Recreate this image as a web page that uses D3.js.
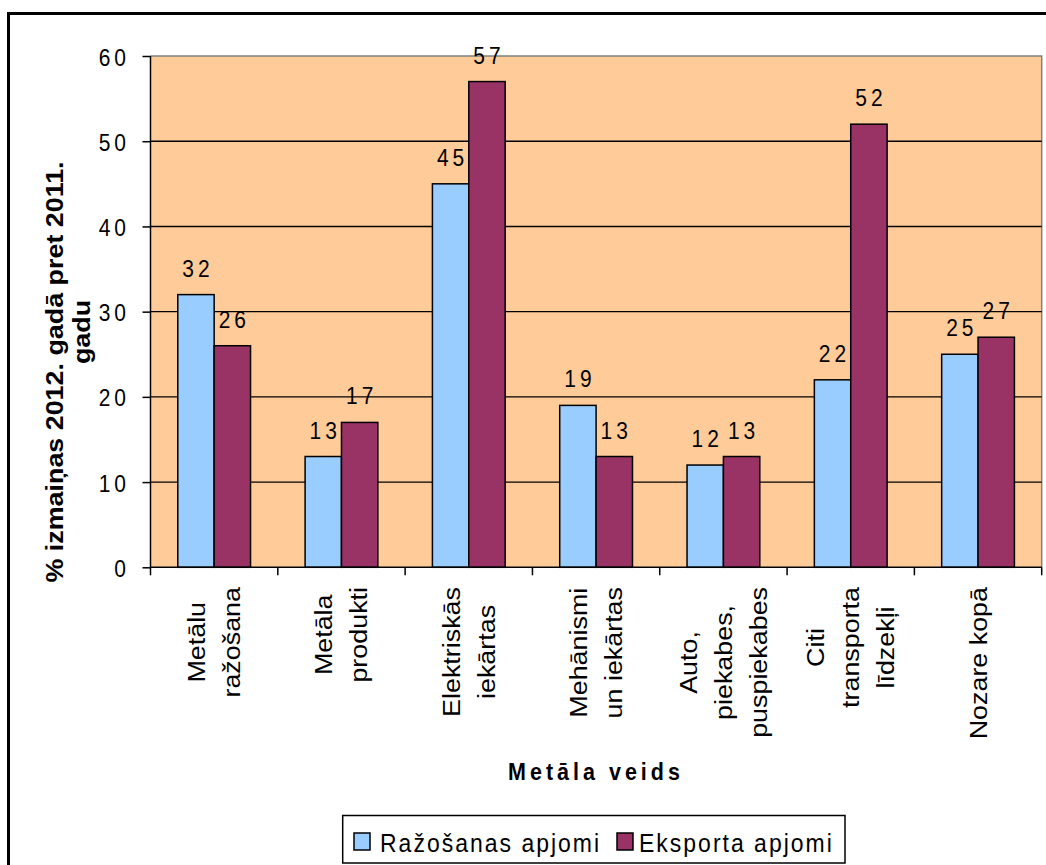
<!DOCTYPE html>
<html>
<head>
<meta charset="utf-8">
<script src="https://cdn.jsdelivr.net/npm/d3@7"></script>
<style>
  html, body { margin: 0; padding: 0; background: #fff; }
  svg { display: block; font-family: "Liberation Sans", Arial, sans-serif; }
</style>
</head>
<body>
<svg id="chart" width="1046" height="865"></svg>
<script>
// Metal industry: % change 2012 vs 2011, production vs export volumes
const categories = [
  "Metālu\nražošana",
  "Metāla\nprodukti",
  "Elektriskās\niekārtas",
  "Mehānismi\nun iekārtas",
  "Auto,\npiekabes,\npuspiekabes",
  "Citi\ntransporta\nlīdzekļi",
  "Nozare kopā"
];
const seriesNames = ["Ražošanas apjomi", "Eksporta apjomi"];
const production = [32, 13, 45, 19, 12, 22, 25];
const exportVals = [26, 17, 57, 13, 13, 52, 27];
const yTicks = [0, 10, 20, 30, 40, 50, 60];
const yTitleLines = ["% izmaiņas 2012. gadā pret 2011.", "gadu"];
const xTitle = "Metāla veids";

const colors = ["#99CCFF", "#993366"];
const SY = 1.12; // vertical stretch applied to all text

const svg = d3.select("#chart");

// outer frame
svg.append("rect")
  .attr("x", 8.5).attr("y", 13.5)
  .attr("width", 1100).attr("height", 900)
  .attr("fill", "#fff").attr("stroke", "#000").attr("stroke-width", 3);

const plot = { left: 150.5, right: 1041.7, top: 56, bottom: 567.3 };

const y = d3.scaleLinear().domain([0, 60]).range([plot.bottom, plot.top]);
const x0 = d3.scaleBand().domain(categories).range([plot.left, plot.right]).paddingInner(0).paddingOuter(0);
const x1 = d3.scaleBand().domain(seriesNames).range([0, x0.bandwidth()]).paddingInner(0).paddingOuter(0.75);

function txt(parent, px, py, str, o = {}) {
  const rot = o.rotate ? ` rotate(${o.rotate})` : "";
  return parent.append("text")
    .attr("transform", `translate(${px},${py}) scale(1,${SY})${rot}`)
    .attr("font-size", o.size || 21)
    .attr("font-weight", o.weight || "normal")
    .attr("letter-spacing", o.ls || 0)
    .attr("text-anchor", o.anchor || "start")
    .attr("fill", "#000")
    .text(str);
}

// plot background
svg.append("rect")
  .attr("x", plot.left).attr("y", plot.top)
  .attr("width", plot.right - plot.left).attr("height", plot.bottom - plot.top)
  .attr("fill", "#FFCC99");

// top/right plot border (grey)
svg.append("path")
  .attr("d", `M${plot.left},${plot.top}H${plot.right}V${plot.bottom}`)
  .attr("fill", "none").attr("stroke", "#808080").attr("stroke-width", 1.5);

// gridlines
svg.append("g").selectAll("line")
  .data(yTicks.filter(t => t > 0 && t < 60))
  .join("line")
  .attr("x1", plot.left).attr("x2", plot.right)
  .attr("y1", d => y(d)).attr("y2", d => y(d))
  .attr("stroke", "#000").attr("stroke-width", 1.4);

// y axis
const yAxis = svg.append("g").attr("transform", `translate(${plot.left},0)`)
  .call(d3.axisLeft(y).tickValues(yTicks).tickSize(8).tickFormat(""));
yAxis.selectAll("path, line").attr("stroke", "#000").attr("stroke-width", 1.5);
yAxis.select(".domain").attr("d", `M0,${plot.top}V${plot.bottom}`);

yTicks.forEach(t => {
  txt(svg, 130, y(t) + 9.5, String(t), { size: 21, ls: 4, anchor: "end" });
});

// bars
const groups = svg.append("g").selectAll("g")
  .data(categories.map((c, i) => ({ c, vals: [production[i], exportVals[i]] })))
  .join("g")
  .attr("transform", d => `translate(${x0(d.c)},0)`);

groups.selectAll("rect")
  .data(d => d.vals.map((v, k) => ({ v, s: seriesNames[k], k })))
  .join("rect")
  .attr("x", d => x1(d.s))
  .attr("y", d => y(d.v))
  .attr("width", x1.bandwidth())
  .attr("height", d => y(0) - y(d.v))
  .attr("fill", d => colors[d.k])
  .attr("stroke", "#000").attr("stroke-width", 1.5);

// value labels
groups.each(function(d) {
  const g = d3.select(this);
  d.vals.forEach((v, k) => {
    txt(g, x1(seriesNames[k]) + x1.bandwidth() / 2 + 2, y(v) - 18, String(v), { size: 21, ls: 4, anchor: "middle" });
  });
});

// x axis line and ticks at category boundaries
svg.append("line")
  .attr("x1", plot.left).attr("x2", plot.right)
  .attr("y1", plot.bottom).attr("y2", plot.bottom)
  .attr("stroke", "#000").attr("stroke-width", 1.5);
const bounds = categories.map(c => x0(c)).concat([plot.right]);
svg.append("g").selectAll("line")
  .data(bounds).join("line")
  .attr("x1", d => d).attr("x2", d => d)
  .attr("y1", plot.bottom).attr("y2", plot.bottom + 8)
  .attr("stroke", "#000").attr("stroke-width", 1.5);

// rotated category labels, top-aligned block, lines centred in the block
const labelTop = 587, lineGap = 35;
categories.forEach(c => {
  const lines = c.split("\n");
  const cx = x0(c) + x0.bandwidth() / 2;
  const nodes = lines.map((ln, i) =>
    txt(svg, cx + (i - (lines.length - 1) / 2) * lineGap + 8.5, 0, ln, { size: 24, anchor: "middle", rotate: -90 }));
  const maxLen = d3.max(nodes, n => n.node().getComputedTextLength());
  const cy = labelTop + maxLen * SY / 2;
  nodes.forEach((n, i) => {
    const bx = cx + (i - (lines.length - 1) / 2) * lineGap + 8.5;
    n.attr("transform", `translate(${bx},${cy}) scale(1,${SY}) rotate(-90)`);
  });
});

// axis titles
txt(svg, 63, 372, yTitleLines[0], { size: 24, weight: "bold", anchor: "middle", rotate: -90 });
txt(svg, 90, 332, yTitleLines[1], { size: 24, weight: "bold", anchor: "middle", rotate: -90 });
txt(svg, 596, 780, xTitle, { size: 21.5, weight: "bold", ls: 4, anchor: "middle" });

// legend
const legend = svg.append("g");
legend.append("rect")
  .attr("x", 342.7).attr("y", 815.5).attr("width", 502.3).attr("height", 47.5)
  .attr("fill", "#fff").attr("stroke", "#000").attr("stroke-width", 1.5);
const legendItems = [
  { swatch: 354, text: 380 },
  { swatch: 617, text: 639 }
];
seriesNames.forEach((s, k) => {
  legend.append("rect")
    .attr("x", legendItems[k].swatch).attr("y", 833)
    .attr("width", 16).attr("height", 17)
    .attr("fill", colors[k]).attr("stroke", "#000").attr("stroke-width", 1.5);
  txt(legend, legendItems[k].text, 852, s, { size: 23, ls: 2 });
});
</script>
</body>
</html>
